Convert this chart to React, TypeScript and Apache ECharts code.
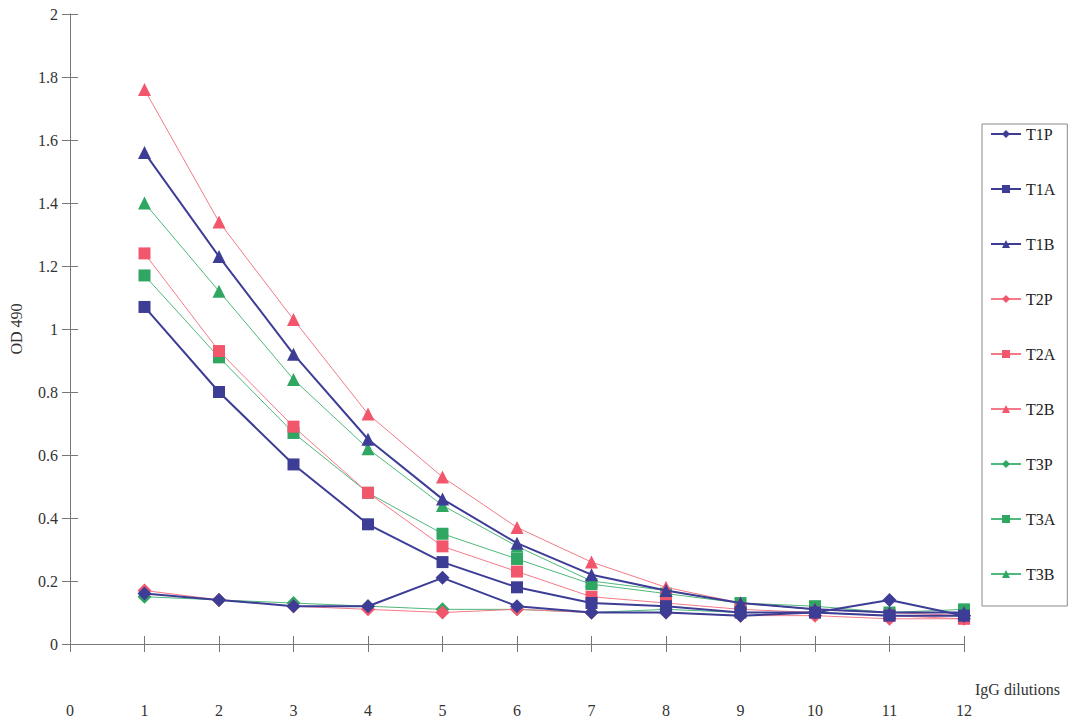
import React, { useEffect, useRef } from "react";
import * as echarts from "echarts";

const xValues = [1, 2, 3, 4, 5, 6, 7, 8, 9, 10, 11, 12];
const yTicks = ["0", "0.2", "0.4", "0.6", "0.8", "1", "1.2", "1.4", "1.6", "1.8", "2"];
const seriesNames = ["T1P", "T1A", "T1B", "T2P", "T2A", "T2B", "T3P", "T3A", "T3B"];

const t1p = [0.16, 0.14, 0.12, 0.12, 0.21, 0.12, 0.1, 0.1, 0.09, 0.1, 0.14, 0.09];
const t1a = [1.07, 0.8, 0.57, 0.38, 0.26, 0.18, 0.13, 0.12, 0.1, 0.1, 0.09, 0.09];
const t1b = [1.56, 1.23, 0.92, 0.65, 0.46, 0.32, 0.22, 0.17, 0.13, 0.11, 0.1, 0.1];
const t2p = [0.17, 0.14, 0.12, 0.11, 0.1, 0.11, 0.1, 0.1, 0.09, 0.09, 0.08, 0.08];
const t2a = [1.24, 0.93, 0.69, 0.48, 0.31, 0.23, 0.15, 0.13, 0.11, 0.1, 0.09, 0.08];
const t2b = [1.76, 1.34, 1.03, 0.73, 0.53, 0.37, 0.26, 0.18, 0.13, 0.11, 0.1, 0.09];
const t3p = [0.15, 0.14, 0.13, 0.12, 0.11, 0.11, 0.1, 0.11, 0.1, 0.1, 0.09, 0.09];
const t3a = [1.17, 0.91, 0.67, 0.48, 0.35, 0.27, 0.19, 0.16, 0.13, 0.12, 0.1, 0.11];
const t3b = [1.4, 1.12, 0.84, 0.62, 0.44, 0.31, 0.2, 0.17, 0.13, 0.11, 0.1, 0.1];

const allValues = [t1p, t1a, t1b, t2p, t2a, t2b, t3p, t3a, t3b];

const BLUE = "#3d3d96";
const RED = "#f2566c";
const GREEN = "#2fa763";
const RED_LINE = "#f47a88";
const GREEN_LINE = "#4fb87a";

const symbols = ["diamond", "rect", "triangle"];

export default function App() {
  const ref = useRef<HTMLDivElement>(null);
  useEffect(() => {
    document.body.style.margin = "0";
    const chart = echarts.init(ref.current!, null, { renderer: "svg" });
    const font = "'Liberation Serif', 'DejaVu Serif', serif";
    const series = seriesNames.map((name, i) => {
      const group = Math.floor(i / 3);
      const color = group === 0 ? BLUE : group === 1 ? RED : GREEN;
      const lineColor = group === 0 ? BLUE : group === 1 ? RED_LINE : GREEN_LINE;
      const sym = symbols[i % 3];
      return {
        name,
        type: "line",
        xAxisIndex: 0,
        yAxisIndex: 0,
        data: xValues.map((x, j) => [x, allValues[i][j]]),
        symbol: sym,
        symbolSize: sym === "triangle" ? 13 : sym === "rect" ? 12 : 14,
        itemStyle: { color, borderWidth: 0 },
        lineStyle: { color: lineColor, width: group === 0 ? 2 : 1 },
        z: 10 - i,
      };
    });
    const tickStyle = { color: "#777", width: 1 };
    chart.setOption({
      animation: false,
      backgroundColor: "#ffffff",
      textStyle: { fontFamily: font },
      grid: {
        left: 70,
        top: 14,
        width: 894,
        height: 630,
        containLabel: false,
        outerBoundsMode: "none",
      },
      legend: {
        orient: "vertical",
        left: 982,
        top: 124,
        width: 98,
        padding: [2, 12, 24, 8],
        borderColor: "#8a8a8a",
        borderWidth: 1,
        itemWidth: 30,
        itemHeight: 10,
        itemGap: 39,
        textStyle: { fontFamily: font, fontSize: 16, color: "#222" },
        data: seriesNames,
      },
      xAxis: [
        {
          type: "value",
          min: 0,
          max: 12,
          interval: 1,
          axisLine: { lineStyle: tickStyle },
          axisTick: { show: true, length: 8, lineStyle: tickStyle },
          axisLabel: { margin: 58, fontSize: 16, color: "#333", fontFamily: font },
          splitLine: { show: false },
        },
        {
          type: "value",
          position: "bottom",
          min: 0,
          max: 12,
          interval: 1,
          axisLine: { show: false },
          axisTick: { show: true, inside: true, length: 8, lineStyle: tickStyle },
          axisLabel: { show: false },
          splitLine: { show: false },
        },
      ],
      yAxis: [
        {
          type: "value",
          min: 0,
          max: 2,
          interval: 0.2,
          name: "OD 490",
          nameLocation: "middle",
          nameGap: 46,
          nameRotate: 90,
          nameTextStyle: { fontSize: 16, color: "#333", fontFamily: font },
          axisLine: { show: true, lineStyle: tickStyle },
          axisTick: { show: true, length: 8, lineStyle: tickStyle },
          axisLabel: {
            margin: 12,
            fontSize: 16,
            color: "#333",
            fontFamily: font,
            formatter: (v: number) => yTicks[Math.round(v / 0.2)] ?? "",
          },
          splitLine: { show: false },
        },
        {
          type: "value",
          position: "left",
          min: 0,
          max: 2,
          interval: 0.2,
          axisLine: { show: false },
          axisTick: { show: true, inside: true, length: 8, lineStyle: tickStyle },
          axisLabel: { show: false },
          splitLine: { show: false },
        },
      ],
      graphic: [
        {
          type: "text",
          left: 975,
          top: 681,
          style: { text: "IgG dilutions", fontSize: 16, fill: "#333", fontFamily: font },
        },
      ],
      series,
    });
    return () => chart.dispose();
  }, []);
  return <div ref={ref} style={{ width: 1085, height: 720 }} />;
}
